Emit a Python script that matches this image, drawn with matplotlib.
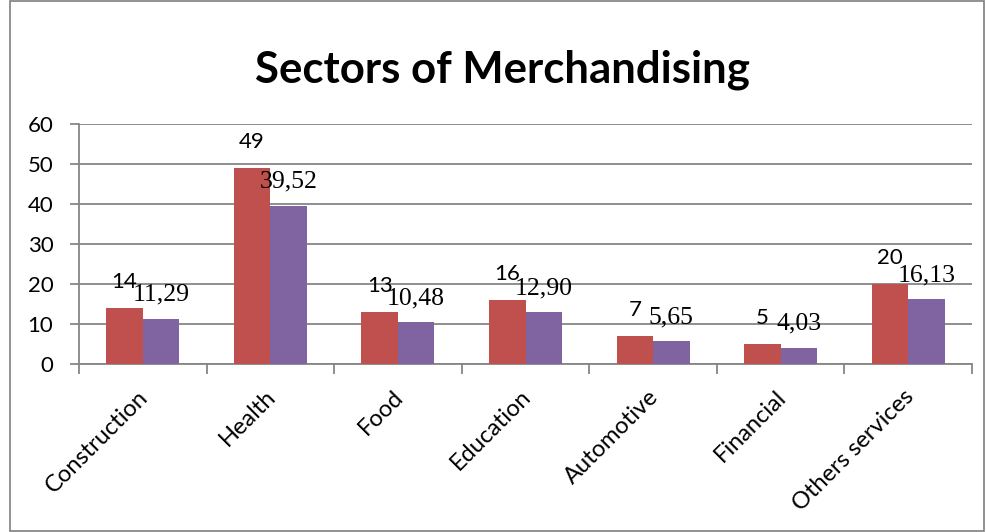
import matplotlib
matplotlib.use("Agg")
import matplotlib.pyplot as plt
from matplotlib.patches import Rectangle
import matplotlib.transforms as mtransforms
import numpy as np

categories = ["Construction", "Health", "Food", "Education", "Automotive", "Financial", "Others services"]
counts = [14, 49, 13, 16, 7, 5, 20]
percents = [11.29, 39.52, 10.48, 12.90, 5.65, 4.03, 16.13]
yticks = [0, 10, 20, 30, 40, 50, 60]

red = "#C0504D"
purple = "#8064A2"
grid = "#868686"
sans = "Lato"

fig = plt.figure(figsize=(9.87, 5.32), dpi=100)
ax = fig.add_axes([79 / 987, (532 - 364) / 532, 893 / 987, 240 / 532])

x = np.arange(len(categories))
w = 0.286
ax.bar(x - w / 2, counts, w, color=red, zorder=3)
ax.bar(x + w / 2, percents, w, color=purple, zorder=3)

ax.set_xlim(-0.5, len(categories) - 0.5)
ax.set_ylim(0, 60)
ax.set_yticks(yticks)
ax.set_yticklabels([str(v) for v in yticks], fontsize=16, family=sans)
ax.yaxis.grid(True, color=grid, linewidth=1.3, zorder=0)
ax.tick_params(axis="y", length=6.5, color=grid, width=1.3, pad=12)

ax.set_xticks(x)
ax.set_xticklabels(categories, rotation=45, ha="right", va="top", rotation_mode="anchor",
                   fontsize=17, family=sans)
ax.tick_params(axis="x", which="major", length=0, pad=16)
offset = mtransforms.ScaledTranslation(-4 / 72, 0, fig.dpi_scale_trans)
for lbl in ax.get_xticklabels():
    lbl.set_transform(lbl.get_transform() + offset)
ax.set_xticks(np.arange(len(categories) + 1) - 0.5, minor=True)
ax.tick_params(axis="x", which="minor", length=7, color=grid, width=1.3)

for s in ["top", "right"]:
    ax.spines[s].set_visible(False)
for s in ["left", "bottom"]:
    ax.spines[s].set_color(grid)
    ax.spines[s].set_linewidth(1.3)

for xi, v in zip(x, counts):
    ax.annotate(str(v), (xi - w / 2, v), xytext=(0, 14.5), textcoords="offset points",
                ha="center", va="baseline", fontsize=16, family=sans)
for xi, v in zip(x, percents):
    ax.annotate(f"{v:.2f}".replace(".", ","), (xi + w / 2, v), xytext=(0, 13),
                textcoords="offset points", ha="center", va="baseline", fontsize=18.5,
                family="Liberation Serif")

fig.text(502.5 / 987, 1 - 83 / 532, "Sectors of Merchandising", ha="center", va="baseline",
         fontsize=31.5, fontweight="bold", family=sans)

fig.patches.append(Rectangle((0.010, 0.002), 0.987, 0.996, transform=fig.transFigure,
                             fill=False, edgecolor="#7f7f7f", linewidth=1.2))

fig.savefig("out.png", dpi=100)
